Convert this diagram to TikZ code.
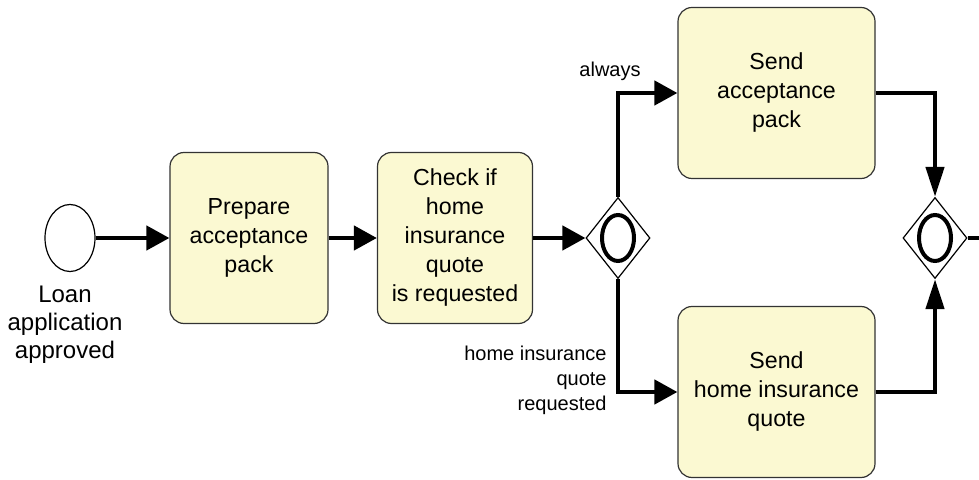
\documentclass[tikz,border=0pt]{standalone}
\usepackage{fontspec}
\setmainfont{Liberation Sans}
\usepackage{xcolor}
\usepackage{tikz}
\usetikzlibrary{arrows.meta, shapes, positioning}
\tikzset{
    tasknode/.style = {draw=black!80, rectangle, rounded corners=7pt, fill=taskfill, line width=0.6pt, 
      inner sep=0pt, minimum height=85.5pt, node distance=0em, font=\fontsize{11.6}{14.5}\selectfont},
    eventnode/.style = {draw, ellipse, fill=white, line width=0.6pt, minimum width=25pt, 
      minimum height=33.5pt, inner sep=0pt, node distance=0em},
    gatenode/.style = {draw, diamond, fill=white, line width=0.6pt, minimum width=32pt, minimum height=40.5pt, 
      inner sep=0pt, node distance=0em, 
      path picture={\draw[line width=2pt] (path picture bounding box.center) ellipse (8pt and 11.5pt);}},
    textnode/.style  = {draw=none, fill=none, rectangle, inner sep=0em, node distance=0em, 
      font=\fontsize{12}{14}\selectfont},
    smalltextnode/.style  = {draw=none, fill=none, rectangle, inner sep=0em, node distance=0em, 
      font=\fontsize{10}{12.5}\selectfont},
    connect/.style = {black, line width=2.2pt, -{Triangle[length=11.5pt, width=12pt]}},
    connectv/.style = {black, line width=2.2pt, -{Triangle[length=15pt, width=9pt]}},
    every text node part/.style={align=center}
}
\definecolor{taskfill}{RGB}{251, 249, 210}

\begin{document}
\begin{tikzpicture}
\useasboundingbox (0pt,0pt) rectangle (489.5pt,-240pt);

\node [eventnode, name=start] at (35pt,-119pt) {};
\node [textnode, name=startlbl, below of = start, xshift=-2.5pt, yshift=-43.5pt] {Loan\\application\\approved};

\node [tasknode, name=prep, right of = start, xshift=89.5pt, minimum width=79pt] {Prepare\\acceptance\\pack};
\draw (start) edge[connect] (prep);

\node [tasknode, name=check, right of = prep, xshift=103pt, minimum width=77.5pt] {Check if\\home\\insurance\\quote\\is requested};
\draw (prep) edge[connect] (check);

\node [gatenode, name=split, right of = check, xshift=81.5pt] {};
\draw (check) edge[connect] (split);

\node [tasknode, name=sendpack, right of = split, xshift=79.25pt, yshift=72.5pt, minimum width=98.5pt] {Send\\acceptance\\pack};
\node [tasknode, name=sendquote, right of = split, xshift=79.25pt, yshift=-77pt, minimum width=98.5pt] {Send\\home insurance\\quote};
\draw [connect] (split.north) |- (sendpack.west);
\draw [connect] (split.south) |- (sendquote.west);

\node [smalltextnode, name=alwayslbl, above of = split, xshift=-4pt, yshift=83.5pt] {always};
\node [smalltextnode, name=quotelbl, below of = split, anchor=east, xshift=-5.5pt, yshift=-71pt, 
  every text node part/.style={align=right}] {home insurance\\quote\\requested};

\node [gatenode, name=join, right of = split, xshift=158.5pt] {};
\draw [connectv] (sendpack.east) -| (join.north);
\draw [connectv] (sendquote.east) -| (join.south);

\coordinate [right of = join, xshift=24pt] (out);
\draw [line width=2.2pt] (join.east) -- (out);
\end{tikzpicture}
\end{document}
